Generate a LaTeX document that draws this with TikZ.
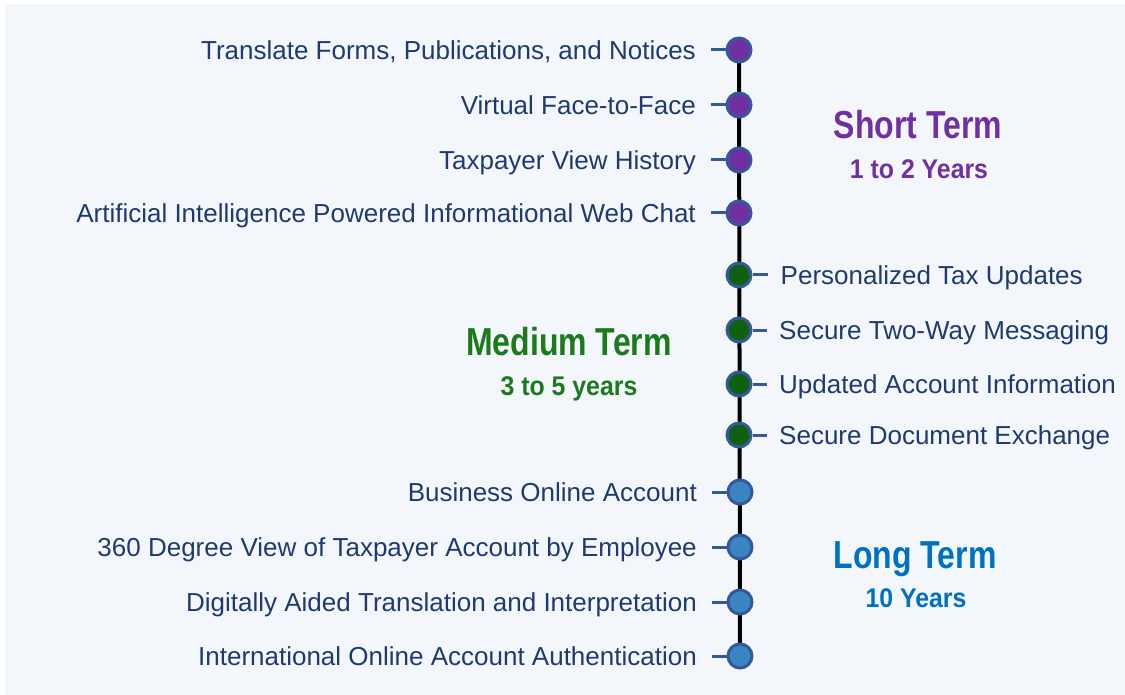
\documentclass[tikz,border=0pt]{standalone}
\usepackage{fontspec}
\setmainfont{Liberation Sans}
\newfontfamily\termfont{Liberation Sans}[FakeStretch=0.82]
\newfontfamily\yearfont{Liberation Sans}[FakeStretch=0.92]
\usepackage{xcolor}
\usetikzlibrary{positioning, backgrounds}

\definecolor{fond}{HTML}{F3F7FC}
\definecolor{encre}{HTML}{1F3A6E}
\definecolor{anneau}{HTML}{34589A}
\definecolor{violet}{HTML}{7030A0}
\definecolor{vertclair}{HTML}{1B7A1B}
\definecolor{vertfonce}{HTML}{0F600F}
\definecolor{bleu}{HTML}{0070C0}
\definecolor{bleuclair}{HTML}{3A85C2}

\begin{document}
\begin{tikzpicture}[x=1pt, y=-1pt,
    jalon/.style={circle, draw=anneau, line width=3pt, minimum size=24pt, inner sep=0pt},
    item/.style={inner sep=0pt, text=encre, text height=19pt, text depth=0pt,
                 font=\fontsize{26}{30}\selectfont},
    trait/.style={draw=anneau, line width=3pt},
    terme/.style={anchor=base, font=\termfont\bfseries\fontsize{39}{44}\selectfont},
    duree/.style={anchor=base, font=\yearfont\bfseries\fontsize{27}{32}\selectfont}]
    \useasboundingbox (0,0) rectangle (1125,695);

    % Définition des jalons
    \node[jalon, fill=violet] (d1) at (739,50) {};
    \node[jalon, fill=violet] (d2) at (739,105) {};
    \node[jalon, fill=violet] (d3) at (739,160) {};
    \node[jalon, fill=violet] (d4) at (739,213) {};
    \node[jalon, fill=vertfonce] (d5) at (739,275) {};
    \node[jalon, fill=vertfonce] (d6) at (739,330) {};
    \node[jalon, fill=vertfonce] (d7) at (739,384) {};
    \node[jalon, fill=vertfonce] (d8) at (739,435) {};
    \node[jalon, fill=bleuclair] (d9) at (740,492) {};
    \node[jalon, fill=bleuclair] (d10) at (740,547) {};
    \node[jalon, fill=bleuclair] (d11) at (740,602) {};
    \node[jalon, fill=bleuclair] (d12) at (740,656) {};

    % Définition des libellés
    \node[item, left=29.5pt of d1] (t1) {Translate Forms, Publications, and Notices};
    \node[item, left=29.5pt of d2] (t2) {Virtual Face-to-Face};
    \node[item, left=29.5pt of d3] (t3) {Taxpayer View History};
    \node[item, left=29.5pt of d4] (t4) {Artificial Intelligence Powered Informational Web Chat};
    \node[item, right=28pt of d5] (t5) {Personalized Tax Updates};
    \node[item, right=26.5pt of d6] (t6) {Secure Two-Way Messaging};
    \node[item, right=26.5pt of d7] (t7) {Updated Account Information};
    \node[item, right=26.5pt of d8] (t8) {Secure Document Exchange};
    \node[item, left=29.5pt of d9] (t9) {Business Online Account};
    \node[item, left=29.5pt of d10] (t10) {360 Degree View of Taxpayer Account by Employee};
    \node[item, left=29.5pt of d11] (t11) {Digitally Aided Translation and Interpretation};
    \node[item, left=29.5pt of d12] (t12) {International Online Account Authentication};

    % Définition des traits
    \path[trait]
    ([xshift=15pt]t1.east) edge (d1)
    ([xshift=15pt]t2.east) edge (d2)
    ([xshift=15pt]t3.east) edge (d3)
    ([xshift=15pt]t4.east) edge (d4)
    (d5) edge ([xshift=-13pt]t5.west)
    (d6) edge ([xshift=-12pt]t6.west)
    (d7) edge ([xshift=-12pt]t7.west)
    (d8) edge ([xshift=-12pt]t8.west)
    ([xshift=15pt]t9.east) edge (d9)
    ([xshift=15pt]t10.east) edge (d10)
    ([xshift=15pt]t11.east) edge (d11)
    ([xshift=15pt]t12.east) edge (d12);

    % Définition des périodes
    \node[terme, text=violet] (court) at (918,139) {Short Term};
    \node[duree, text=violet] (courtans) at (919,179) {1 to 2 Years};
    \node[terme, text=vertclair] (moyen) at (569,355) {Medium Term};
    \node[duree, text=vertclair] (moyenans) at (569,395) {3 to 5 years};
    \node[terme, text=bleu] (long) at (915,568) {Long Term};
    \node[duree, text=bleu] (longans) at (916,607) {10 Years};

    \begin{scope}[on background layer]
        \fill[white] (0,0) rectangle (1125,695);
        \fill[fond] (5,4) rectangle (1130,700);
        \draw[line width=4pt] (d1.center) -- (d12.center);
    \end{scope}

\end{tikzpicture}
\end{document}
